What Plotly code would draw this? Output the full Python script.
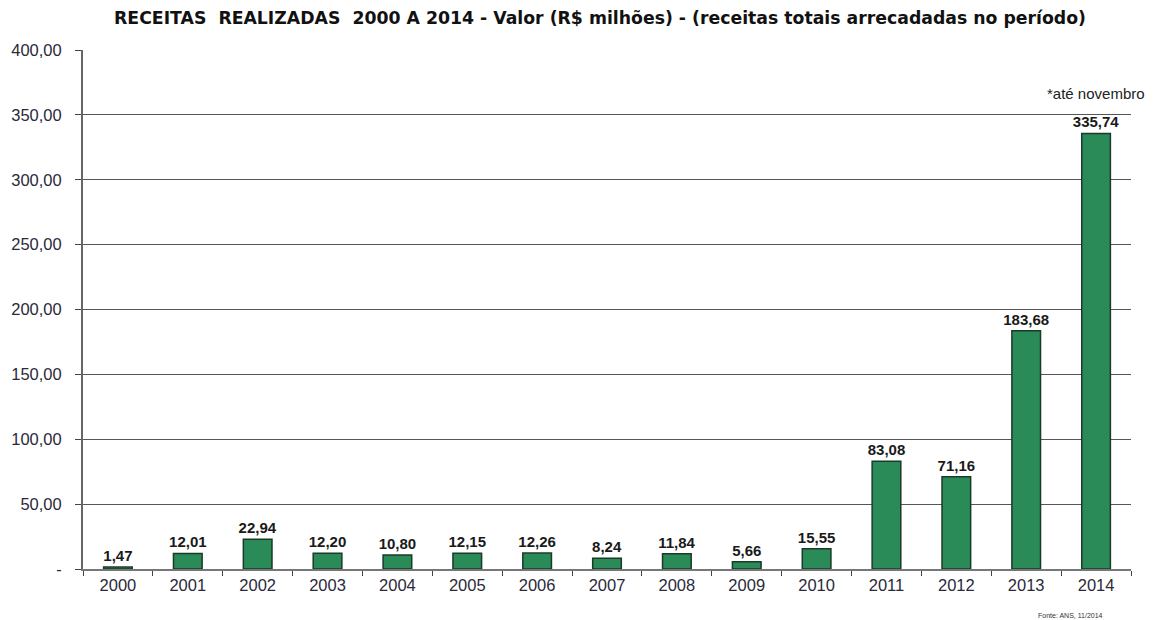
import plotly.graph_objects as go

anos = ["2000", "2001", "2002", "2003", "2004", "2005", "2006", "2007",
        "2008", "2009", "2010", "2011", "2012", "2013", "2014"]
receitas = [1.47, 12.01, 22.94, 12.20, 10.80, 12.15, 12.26, 8.24,
            11.84, 5.66, 15.55, 83.08, 71.16, 183.68, 335.74]
y_ticks = [0, 50, 100, 150, 200, 250, 300, 350, 400]
y_labels = ["-", "50,00", "100,00", "150,00", "200,00", "250,00",
            "300,00", "350,00", "400,00"]

rotulos = [f"{v:.2f}".replace(".", ",") for v in receitas]

fig = go.Figure(go.Bar(
    x=anos, y=receitas,
    width=0.41,
    marker=dict(color="#2a8a58", line=dict(color="#1b3a28", width=1.5)),
    text=["<b>%s</b>" % t for t in rotulos],
    textposition="outside",
    constraintext="none",
    cliponaxis=False,
    textfont=dict(family="Liberation Sans, Arial", size=15, color="#1a1a1a"),
))

# the page body adds an 8px offset, so the figure is a bit smaller
fig.update_layout(
    width=1148, height=612,
    margin=dict(l=75, r=25, t=42, b=51, autoexpand=False),
    paper_bgcolor="white", plot_bgcolor="white",
    showlegend=False,
    title=dict(text="<b>RECEITAS  REALIZADAS  2000 A 2014 - Valor (R$ milhões) - (receitas totais arrecadadas no período)</b>",
               x=0.5157, xanchor="center", y=0.984, yanchor="middle",
               font=dict(family="DejaVu Sans, Verdana", size=17.3, color="#111")),
    xaxis=dict(type="category", tickson="boundaries", ticks="outside", ticklen=5,
               tickcolor="#444", showline=True, linecolor="#777", linewidth=1.5,
               showgrid=False, automargin=False,
               tickfont=dict(family="Liberation Sans, Arial", size=16.5, color="#2a2a3a")),
    yaxis=dict(range=[0, 400], tickvals=y_ticks, ticktext=y_labels,
               ticks="outside", ticklen=6, tickcolor="#444", ticklabelstandoff=10,
               showline=True, linecolor="#666", linewidth=2,
               showgrid=True, gridcolor="#555", gridwidth=1,
               zeroline=False, automargin=False,
               tickfont=dict(family="Liberation Sans, Arial", size=16.5, color="#2a2a3a")),
    annotations=[
        dict(text="*até novembro", x=1.0, xref="paper", xshift=16, y=358, yref="y",
             xanchor="right", yanchor="bottom", showarrow=False,
             font=dict(family="Liberation Sans, Arial", size=15, color="#222")),
        dict(text="Fonte: ANS, 11/2014", x=0.975, xref="paper", y=-0.09, yref="paper",
             xanchor="right", yanchor="middle", showarrow=False,
             font=dict(family="Liberation Sans, Arial", size=7, color="#333")),
    ],
)

fig.write_html("out.html")
